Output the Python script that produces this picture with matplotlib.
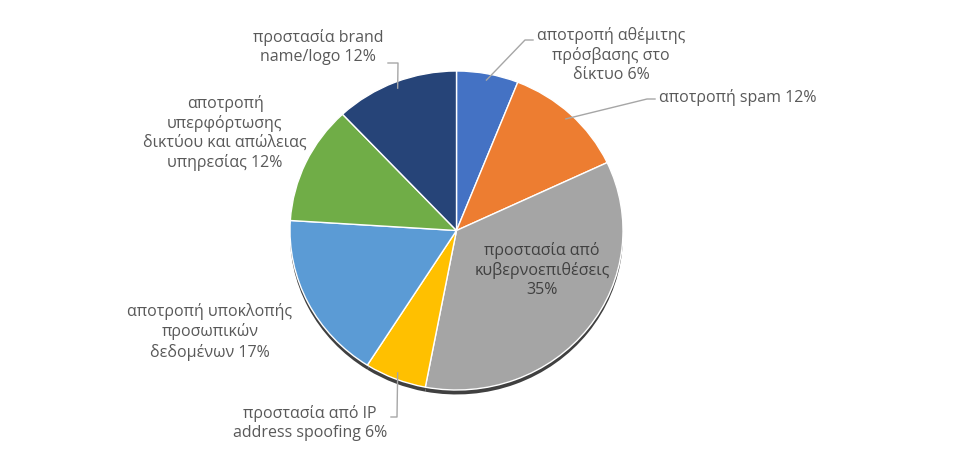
import numpy as np
import matplotlib
matplotlib.use("Agg")
import matplotlib.pyplot as plt

plt.rcParams['font.family'] = ['Open Sans', 'DejaVu Sans']

# chart data, clockwise from 12 o'clock
categories = [
    "αποτροπή αθέμιτης\nπρόσβασης στο\nδίκτυο",
    "αποτροπή spam",
    "προστασία από\nκυβερνοεπιθέσεις\n",
    "προστασία από IP\naddress spoofing",
    "αποτροπή υποκλοπής\nπροσωπικών\nδεδομένων",
    "αποτροπή\nυπερφόρτωσης\nδικτύου και απώλειας\nυπηρεσίας",
    "προστασία brand\nname/logo",
]
values = [6, 12, 35, 6, 17, 12, 12]
colors = ["#4472C4", "#ED7D31", "#A5A5A5", "#FFC000", "#5B9BD5", "#70AD47", "#264478"]

W, H = 961, 451
cx, cy = 456.5, 230.5      # pie centre in pixels (from top)
Rx, Ry = 166.5, 159.5      # slightly tilted pie -> ellipse

fig = plt.figure(figsize=(W / 100, H / 100), dpi=100)
ax = fig.add_axes([(cx - Rx) / W, (H - cy - Ry) / H, 2 * Rx / W, 2 * Ry / H])
ax.axis("off")

def to_data(px, py):
    return (px - cx) / Rx, (cy - py) / Ry

# thin shadow under the pie
ax.pie(values, radius=1.0, center=(0.0, -0.028), startangle=90, counterclock=False,
       colors=["#404040"] * len(values), wedgeprops=dict(linewidth=0))
wedges, _ = ax.pie(values, radius=1.0, startangle=90, counterclock=False, colors=colors,
                   wedgeprops=dict(edgecolor="white", linewidth=1.0))
ax.set_aspect("auto")
ax.set_xlim(-1, 1)
ax.set_ylim(-1, 1)

txt = "#595959"
fs = 11.5

def label(i):
    return categories[i].rstrip("\n") + (" " if not categories[i].endswith("\n") else "\n") + f"{values[i]}%"

def mid_point(i, r=1.0):
    w = wedges[i]
    a = np.deg2rad((w.theta1 + w.theta2) / 2)
    return r * np.cos(a), r * np.sin(a)

# label layout: (text x, text y, ha, elbow points) in pixels
layout = {
    0: (537, 55, "left", [(525, 40), (533, 40)]),
    1: (659, 97, "left", [(647, 99), (655, 99)]),
    3: (387, 423, "right", [(397, 417), (391, 417)]),
    4: (210, 332, "center", None),
    5: (225, 133, "center", None),
    6: (318, 47, "center", [(398, 63), (388, 63)]),
}

for i, (px, py, ha, elbow) in layout.items():
    x, y = to_data(px, py)
    ax.text(x, y, label(i), ha=ha, va="center", fontsize=fs, color=txt,
            linespacing=1.25, multialignment="center")
    if elbow:
        sx, sy = mid_point(i, 0.96)
        pts = [(sx, sy)] + [to_data(*p) for p in elbow]
        xs, ys = zip(*pts)
        ax.plot(xs, ys, color="#a6a6a6", linewidth=1.0, clip_on=False)

# inside label for the big slice
x, y = to_data(542, 270)
ax.text(x, y, label(2), ha="center", va="center", fontsize=fs, color="#404040",
        linespacing=1.25)

fig.savefig("out.png", dpi=100, facecolor="white")
